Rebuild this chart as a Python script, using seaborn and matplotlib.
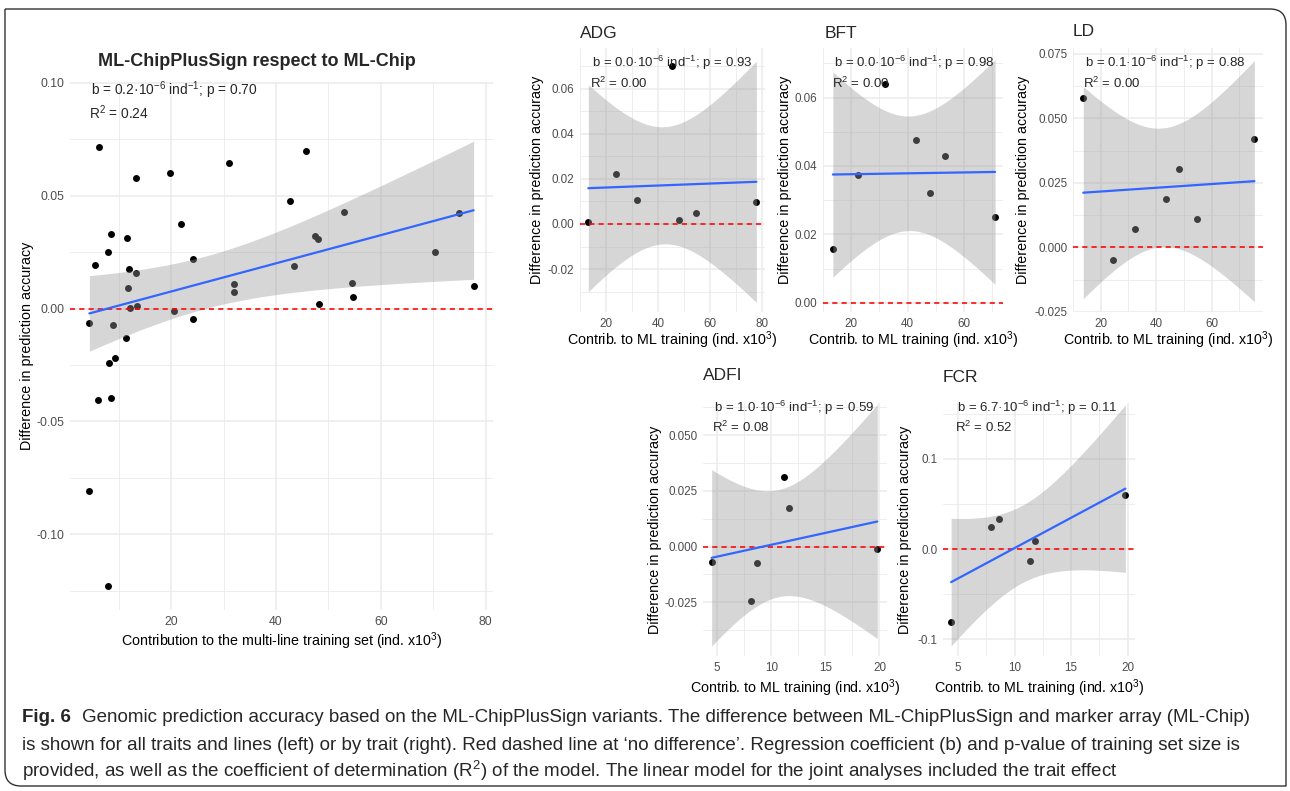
import numpy as np
import pandas as pd
import matplotlib
matplotlib.use("Agg")
import matplotlib.pyplot as plt
import seaborn as sns
from matplotlib.path import Path
from matplotlib.patches import PathPatch
from matplotlib import font_manager as fm

sns.set_theme(style="white")
plt.rcParams["font.family"] = ["Liberation Sans", "DejaVu Sans"]
plt.rcParams["mathtext.default"] = "regular"

# ---------------- data ----------------
main_x = [6.3, 13.3, 19.8, 31.1, 45.7, 42.6, 52.9, 75.0, 21.9, 8.6, 11.6, 47.5, 48.0, 7.9,
          70.4, 24.1, 5.5, 43.4, 11.9, 13.3, 11.8, 31.9, 31.9, 54.5, 54.7, 77.7, 48.2, 12.2,
          13.5, 20.5, 24.2, 4.4, 8.9, 11.4, 9.3, 8.2, 6.0, 8.5, 4.4, 7.9]
main_y = [0.0717, 0.0577, 0.0599, 0.0643, 0.0698, 0.0476, 0.0429, 0.0422, 0.0376, 0.0330,
          0.0311, 0.0321, 0.0307, 0.0249, 0.0249, 0.0220, 0.0192, 0.0190, 0.0174, 0.0158,
          0.0091, 0.0108, 0.0072, 0.0112, 0.0050, 0.0099, 0.0020, 0.0003, 0.0009, -0.0009,
          -0.0046, -0.0065, -0.0071, -0.0131, -0.0217, -0.0243, -0.0407, -0.0396, -0.0807,
          -0.1229]

adg_x = [13.2, 23.8, 31.7, 45.4, 48.0, 54.5, 77.7]
adg_y = [0.0007, 0.0222, 0.0107, 0.0702, 0.0018, 0.0049, 0.0098]
bft_x = [13.5, 22.3, 31.8, 43.0, 48.0, 53.3, 71.0]
bft_y = [0.0158, 0.0375, 0.0640, 0.0475, 0.0322, 0.0430, 0.0250]
ld_x = [13.7, 24.5, 32.4, 43.7, 48.3, 54.8, 75.4]
ld_y = [0.0578, -0.0048, 0.0071, 0.0189, 0.0306, 0.0112, 0.0421]
adfi_x = [4.5, 8.1, 8.7, 11.2, 11.6, 19.8]
adfi_y = [-0.0067, -0.0244, -0.0072, 0.0313, 0.0172, -0.0010]
fcr_x = [4.4, 7.9, 8.6, 11.4, 11.8, 19.8]
fcr_y = [-0.0810, 0.0248, 0.0329, -0.0133, 0.0089, 0.0599]

main_title = "ML-ChipPlusSign respect to ML-Chip"
traits = ["ADG", "BFT", "LD", "ADFI", "FCR"]
main_stats = ("0.2", "0.70", "0.24")
trait_stats = {"ADG": ("0.0", "0.93", "0.00"), "BFT": ("0.0", "0.98", "0.00"),
               "LD": ("0.1", "0.88", "0.00"), "ADFI": ("1.0", "0.59", "0.08"),
               "FCR": ("6.7", "0.11", "0.52")}
main_xlabel = "Contribution to the multi-line training set (ind. x10$^3$)"
sub_xlabel = "Contrib. to ML training (ind. x10$^3$)"
ylabel = "Difference in prediction accuracy"

caption_bold = "Fig. 6"
caption_lines = [
    "Genomic prediction accuracy based on the ML-ChipPlusSign variants. The difference between ML-ChipPlusSign and marker array (ML-Chip)",
    "is shown for all traits and lines (left) or by trait (right). Red dashed line at \u2018no difference\u2019. Regression coefficient (b) and p-value of training set size is",
    "provided, as well as the coefficient of determination (R$^2$) of the model. The linear model for the joint analyses included the trait effect",
]

# t quantiles (0.975) for the 95% confidence band
T975 = {38: 2.024, 5: 2.571, 4: 2.776}

W, H = 1290, 791
fig = plt.figure(figsize=(W / 100, H / 100), dpi=100)
fig.patch.set_facecolor("white")


def ax_at(l, t, r, b):
    return fig.add_axes([l / W, 1 - b / H, (r - l) / W, (b - t) / H])


def ci_band(x, y):
    x = np.asarray(x, float)
    y = np.asarray(y, float)
    n = len(x)
    b, a = np.polyfit(x, y, 1)
    xs = np.linspace(x.min(), x.max(), 200)
    res = y - (a + b * x)
    s = np.sqrt((res ** 2).sum() / (n - 2))
    se = s * np.sqrt(1 / n + (xs - x.mean()) ** 2 / ((x - x.mean()) ** 2).sum())
    fit = a + b * xs
    t = T975[n - 2]
    return xs, fit - t * se, fit + t * se


def panel(ax, x, y, xlim, ylim, xmaj, xmin, ymaj, ymin, yfmt, tick_fs, pad):
    df = pd.DataFrame({"x": x, "y": y})
    xs, lo, hi = ci_band(x, y)
    sns.regplot(data=df, x="x", y="y", ax=ax, ci=None, color="black",
                scatter_kws=dict(s=25, zorder=2, linewidths=0, alpha=1),
                line_kws=dict(color="#3366FF", lw=1.6, zorder=5))
    ax.fill_between(xs, lo, hi, color="#999999", alpha=0.4, lw=0, zorder=3)
    ax.axhline(0, color="#FF0000", ls=(0, (3.2, 2.6)), lw=1.15, zorder=4)
    ax.set_xlim(*xlim)
    ax.set_ylim(*ylim)
    ax.set_xticks(xmaj)
    ax.set_xticks(xmin, minor=True)
    ax.set_yticks(ymaj)
    ax.set_yticks(ymin, minor=True)
    ax.set_xticklabels([str(v) for v in xmaj])
    ax.set_yticklabels([yfmt.format(v) for v in ymaj])
    ax.set_axisbelow(True)
    ax.grid(which="major", color="#EBEBEB", lw=1.1)
    ax.grid(which="minor", color="#EBEBEB", lw=0.6)
    for s in ax.spines.values():
        s.set_visible(False)
    ax.tick_params(which="both", length=0, labelsize=tick_fs, labelcolor="#4D4D4D", pad=pad)
    ax.set_facecolor("white")


def labels(ax, xl, yl, fs, xlab_y, ylab_x):
    ax.set_xlabel(xl, fontsize=fs, color="black")
    ax.set_ylabel(yl, fontsize=fs, color="black")
    ax.xaxis.label.set_va("center")
    ax.yaxis.label.set_va("center")
    ax.xaxis.set_label_coords(0.5, xlab_y)
    ax.yaxis.set_label_coords(ylab_x, 0.5)


def stat_text(xp, yp1, yp2, b, p, r2, fs):
    fig.text(xp / W, 1 - yp1 / H, "b = " + b + "\u00b710$^{-6}$ ind$^{-1}$; p = " + p,
             fontsize=fs, ha="left", va="center")
    fig.text((xp - 2) / W, 1 - yp2 / H, "R$^2$ = " + r2, fontsize=fs, ha="left", va="center")


# ---------------- main panel ----------------
L, T, R, B = 70, 82, 493, 610
axm = ax_at(L, T, R, B)
panel(axm, main_x, main_y, (0.7, 81.4), (-0.1335, 0.1003), [20, 40, 60, 80], [10, 30, 50, 70],
      [-0.10, -0.05, 0.00, 0.05, 0.10], [-0.125, -0.075, -0.025, 0.025, 0.075], "{:.2f}", 8.8, 4)
labels(axm, main_xlabel, ylabel, 10.3, -(641 - B) / (B - T), (27 - L) / (R - L))
fig.text(257 / W, 1 - 61 / H, main_title, fontsize=13, fontweight="bold", ha="center", va="center")
stat_text(91, 90, 113, *main_stats, fs=9.9)

# ---------------- trait panels ----------------
specs = {
    "ADG": dict(box=(580, 48, 765, 312), x=adg_x, y=adg_y, xlim=(10.0, 81.0), ylim=(-0.0391, 0.0782),
                xmaj=[20, 40, 60, 80], xmin=[10, 30, 50, 70],
                ymaj=[-0.02, 0.00, 0.02, 0.04, 0.06], ymin=[-0.03, -0.01, 0.01, 0.03, 0.05, 0.07],
                fmt="{:.2f}", ylx=537, title=(580, 33), stat=(592, 63, 83)),
    "BFT": dict(box=(823, 48, 1003, 312), x=bft_x, y=bft_y, xlim=(10.6, 73.8), ylim=(-0.0027, 0.0745),
                xmaj=[20, 40, 60], xmin=[10, 30, 50, 70],
                ymaj=[0.00, 0.02, 0.04, 0.06], ymin=[0.01, 0.03, 0.05, 0.07],
                fmt="{:.2f}", ylx=785, title=(825, 33), stat=(834, 63, 83)),
    "LD": dict(box=(1073, 48, 1263, 312), x=ld_x, y=ld_y, xlim=(10.6, 78.5), ylim=(-0.0246, 0.0773),
               xmaj=[20, 40, 60], xmin=[10, 30, 50, 70],
               ymaj=[-0.025, 0.000, 0.025, 0.050, 0.075], ymin=[-0.0125, 0.0125, 0.0375, 0.0625],
               fmt="{:.3f}", ylx=1023, title=(1073, 32), stat=(1085, 63, 83)),
    "ADFI": dict(box=(703, 403, 887, 656), x=adfi_x, y=adfi_y, xlim=(3.7, 20.7), ylim=(-0.0491, 0.0645),
                 xmaj=[5, 10, 15, 20], xmin=[7.5, 12.5, 17.5],
                 ymaj=[-0.025, 0.000, 0.025, 0.050], ymin=[-0.0375, -0.0125, 0.0125, 0.0375, 0.0625],
                 fmt="{:.3f}", ylx=655, title=(703, 376), stat=(714, 408, 427)),
    "FCR": dict(box=(943, 403, 1135, 656), x=fcr_x, y=fcr_y, xlim=(3.68, 20.65), ylim=(-0.1187, 0.162),
                xmaj=[5, 10, 15, 20], xmin=[7.5, 12.5, 17.5],
                ymaj=[-0.1, 0.0, 0.1], ymin=[-0.05, 0.05, 0.15],
                fmt="{:.1f}", ylx=905, title=(943, 377), stat=(957, 408, 427)),
}

for tr in traits:
    s = specs[tr]
    l, t, r, b = s["box"]
    ax = ax_at(l, t, r, b)
    panel(ax, s["x"], s["y"], s["xlim"], s["ylim"], s["xmaj"], s["xmin"], s["ymaj"], s["ymin"],
          s["fmt"], 8.4, 4)
    xlab_pix = 340 if t < 200 else 688
    labels(ax, sub_xlabel, ylabel, 10.3, -(xlab_pix - b) / (b - t), (s["ylx"] - l) / (r - l))
    fig.text(s["title"][0] / W, 1 - s["title"][1] / H, tr, fontsize=12.5, ha="left", va="center")
    stat_text(s["stat"][0], s["stat"][1], s["stat"][2], *trait_stats[tr], fs=9.5)

# ---------------- caption ----------------
names = {f.name for f in fm.fontManager.ttflist}
cap_family = "Liberation Sans Narrow" if "Liberation Sans Narrow" in names else "Liberation Sans"
cap_fam = [cap_family, "DejaVu Sans"]
cap_y = [718, 745, 771]
cap_x0 = 22
fs0 = 12
tb = fig.text(cap_x0 / W, 1 - cap_y[0] / H, caption_bold, fontsize=fs0, fontweight="bold",
              family=cap_fam, ha="left", va="center")
rest = [fig.text(0, 1 - yy / H, line, fontsize=fs0, family=cap_fam, ha="left", va="center")
        for yy, line in zip(cap_y, caption_lines)]
fig.canvas.draw()
rend = fig.canvas.get_renderer()
wb = tb.get_window_extent(rend).width
w1 = rest[0].get_window_extent(rend).width
gap = 10 * fs0 / 12
scale = (1255 - cap_x0) / (wb + gap + w1)
fs = fs0 * scale
tb.set_fontsize(fs)
for i, tx in enumerate(rest):
    tx.set_fontsize(fs)
    if i == 0:
        tx.set_x((cap_x0 + (wb + gap) * scale) / W)
    else:
        tx.set_x(cap_x0 / W)

# ---------------- frame ----------------
x0, x1 = 5 / 100, 1286 / 100
y1, y0 = (H - 9) / 100, (H - 786) / 100
rr = 0.16
verts = [(x0, y1), (x1 - rr, y1), (x1, y1), (x1, y1 - rr), (x1, y0), (x0 + rr, y0),
         (x0, y0), (x0, y0 + rr), (x0, y1)]
codes = [Path.MOVETO, Path.LINETO, Path.CURVE3, Path.CURVE3, Path.LINETO, Path.LINETO,
         Path.CURVE3, Path.CURVE3, Path.LINETO]
fig.add_artist(PathPatch(Path(verts, codes), transform=fig.dpi_scale_trans, fill=False,
                         edgecolor="#333333", lw=1.0))

fig.savefig("out.png", dpi=100, facecolor="white")
